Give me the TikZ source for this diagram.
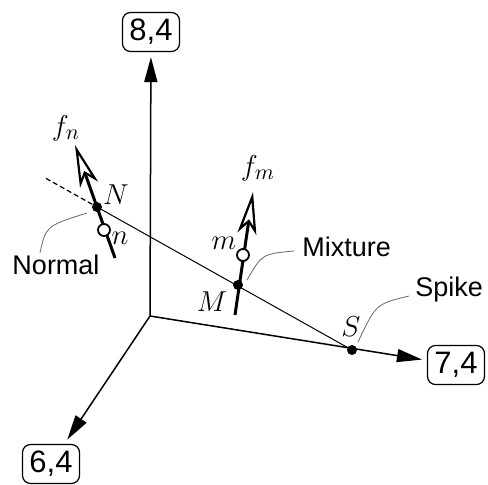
\documentclass[tikz,border=0pt]{standalone}
\usepackage{fontspec}
\setmainfont{Liberation Sans}
\usepackage{tikz}
\usetikzlibrary{arrows.meta,calc}

\begin{document}
\begin{tikzpicture}[
      x=0.5pt, y=-0.5pt,
      axis/.style={-{Triangle[length=12.5pt,width=6.5pt]}, line width=0.75pt},
      box/.style={draw, rounded corners=4pt, line width=0.6pt, align=center,
                  minimum width=28.5pt, minimum height=19.5pt, inner sep=2pt,
                  font=\fontsize{15.5}{17}\selectfont},
      force/.style={-{Stealth[open, length=21pt, width=9.5pt, inset=5.5pt, line width=1.1pt]},
                    line width=1.5pt},
      dot/.style={circle, fill, inner sep=0pt, minimum size=5pt},
      hollow/.style={circle, draw, fill=white, line width=0.9pt, inner sep=0pt, minimum size=6pt},
      mlab/.style={inner sep=0pt, font=\fontsize{15.5}{17}\selectfont},
      tag/.style={inner sep=1pt, font=\fontsize{13.5}{15}\selectfont},
      leader/.style={draw=black!60, line width=0.4pt}
  ]
  \useasboundingbox (0,0) rectangle (488,485);

  %% ---- Axes: origin and the three labelled ends
  \coordinate (O) at (150,316);
  \node[box] (b84) at (151,32)  {8,4};
  \node[box] (b74) at (456,365) {7,4};
  \node[box] (b64) at (51,464)  {6,4};

  \draw[axis, shorten >=2.5pt] (O) -- (b84);
  \draw[axis, shorten >=2.5pt] (O) -- (b74);
  \draw[axis, shorten >=2.5pt] (O) -- (b64);

  %% ---- Points on the mixing line
  \coordinate (Npt) at (97,207);
  \coordinate (Mpt) at (238,285);
  \coordinate (Spt) at (352,350);

  \draw[dashed, dash pattern=on 2.5pt off 1.5pt, line width=0.6pt] ($(Npt)!-0.2!(Spt)$) -- (Npt);
  \draw[line width=0.5pt] (Npt) -- (Spt);

  %% ---- Force directions through N and M
  \coordinate (fnb)   at (115,258);
  \coordinate (fntip) at (75,145);
  \coordinate (fmb)   at (235,315);
  \coordinate (fmtip) at (253,192);

  \draw[force] (fnb) -- (fntip);
  \draw[force] (fmb) -- (fmtip);

  \node[dot]    (N) at (Npt) {};
  \node[dot]    (M) at (Mpt) {};
  \node[dot]    (S) at (Spt) {};
  \node[hollow] (n) at (104,230) {};
  \node[hollow] (m) at (243,255) {};

  %% ---- Italic labels
  \node[mlab] (lfn) at (66,128)  {$f_n$};
  \node[mlab] (lN)  at (116,195) {$N$};
  \node[mlab] (ln)  at (120,238) {$n$};
  \node[mlab] (lfm) at (258,168) {$f_m$};
  \node[mlab] (lm)  at (224,243) {$m$};
  \node[mlab] (lM)  at (212,302) {$M$};
  \node[mlab] (lS)  at (351,327) {$S$};

  %% ---- Named points with leader curves
  \node[tag] (lblNormal) at (56,265)  {Normal};
  \node[tag, anchor=west] (lblMix)   at (300,247) {Mixture};
  \node[tag, anchor=west] (lblSpike) at (413,290) {Spike};

  \draw[leader] ([xshift=-8pt]lblNormal.north) .. controls (46,226) .. ([shift={(-5pt,-3pt)}]N.center);
  \draw[leader] ([shift={(-3pt,-2pt)}]lblMix.west) .. controls (262,254) .. ([shift={(4.5pt,2.5pt)}]M.center);
  \draw[leader] ([shift={(-2pt,-3pt)}]lblSpike.west) .. controls (376,304) .. ([shift={(3pt,4pt)}]S.center);
\end{tikzpicture}
\end{document}
